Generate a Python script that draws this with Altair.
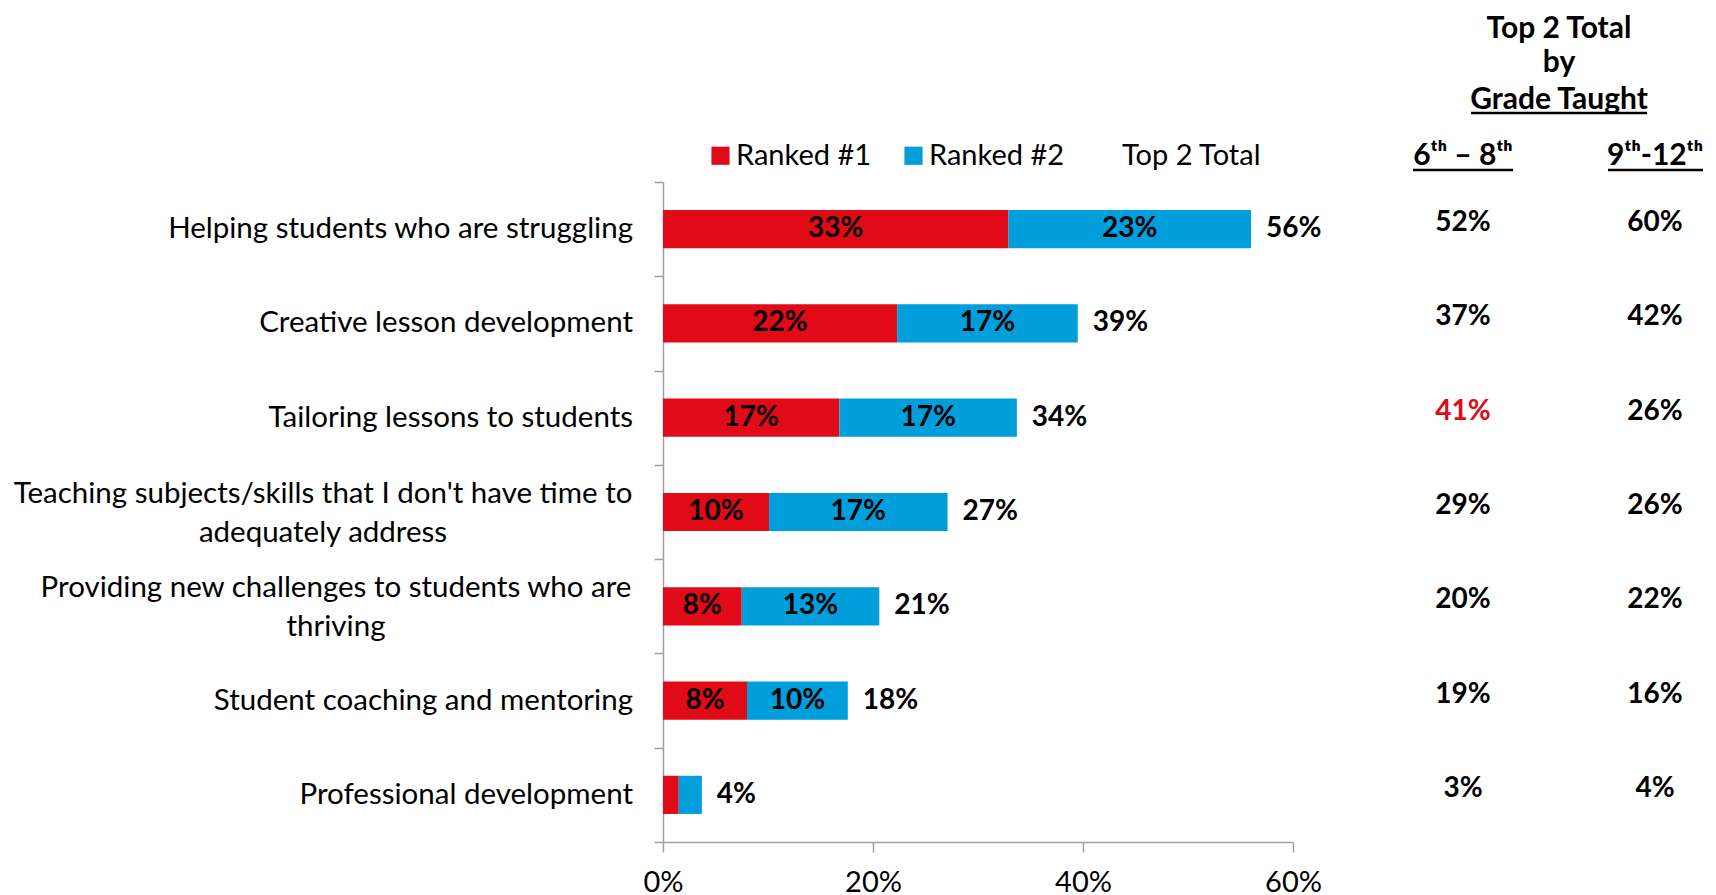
import altair as alt
import pandas as pd

# ---------------- data ----------------
categories = [
    "Helping students who are struggling",
    "Creative lesson development",
    "Tailoring lessons to students",
    "Teaching subjects/skills that I don't have time to\nadequately address",
    "Providing new challenges to students who are\nthriving",
    "Student coaching and mentoring",
    "Professional development",
]
ranked1 = [32.9, 22.3, 16.8, 10.1, 7.5, 8.0, 1.5]
ranked2 = [23.1, 17.2, 16.9, 17.0, 13.1, 9.6, 2.2]
ranked1_labels = ["33%", "22%", "17%", "10%", "8%", "8%", ""]
ranked2_labels = ["23%", "17%", "17%", "17%", "13%", "10%", ""]
top2_labels = ["56%", "39%", "34%", "27%", "21%", "18%", "4%"]
grade_6_8 = ["52%", "37%", "41%", "29%", "20%", "19%", "3%"]
grade_9_12 = ["60%", "42%", "26%", "26%", "22%", "16%", "4%"]
series = ["Ranked #1", "Ranked #2", "Top 2 Total"]
x_ticks = [0, 20, 40, 60]

RED = "#E10A17"
BLUE = "#009EDB"
GRAY = "#A0A0A0"
FONT = "Lato"
CAT_SIZE = 29.5
VAL_SIZE = 28

# ---------------- tables ----------------
long_rows = []
for i, c in enumerate(categories):
    long_rows.append({"cat": c, "series": series[0], "value": ranked1[i], "label": ranked1_labels[i], "order": 1})
    long_rows.append({"cat": c, "series": series[1], "value": ranked2[i], "label": ranked2_labels[i], "order": 2})
long_df = pd.DataFrame(long_rows)

wide_df = pd.DataFrame({
    "cat": categories,
    "idx": list(range(len(categories))),
    "total": [a + b for a, b in zip(ranked1, ranked2)],
    "top2": top2_labels,
    "g68": grade_6_8,
    "g912": grade_9_12,
    "nlines": [len(c.split("\n")) for c in categories],
})

y_enc = alt.Y(
    "cat:N",
    sort=categories,
    scale=alt.Scale(paddingInner=0, paddingOuter=0),
    axis=alt.Axis(
        labels=False, title=None, tickBand="extent", tickSize=9,
        domainColor=GRAY, tickColor=GRAY, domainWidth=1.5, tickWidth=1.5,
    ),
)

bars = alt.Chart(long_df).mark_bar(height=alt.RelativeBandSize(band=0.405)).encode(
    y=y_enc,
    x=alt.X(
        "value:Q", stack="zero",
        scale=alt.Scale(domain=[0, 60], nice=False, zero=True),
        axis=alt.Axis(
            values=x_ticks, labelExpr="datum.value + '%'", grid=False, title=None,
            tickSize=10, domainColor=GRAY, tickColor=GRAY, domainWidth=1.5, tickWidth=1.5,
            labelFont=FONT, labelFontSize=29, labelColor="#000000", labelPadding=16,
            labelFlush=False,
        ),
    ),
    color=alt.Color(
        "series:N",
        scale=alt.Scale(domain=series, range=[RED, BLUE, "rgba(0,0,0,0)"]),
        legend=alt.Legend(
            orient="none", legendX=43, legendY=-41, direction="horizontal",
            title=None, symbolType="square", symbolSize=330, symbolStrokeWidth=0,
            labelFont=FONT, labelFontSize=29, labelColor="#000000",
            columnPadding=27, labelOffset=1, padding=0,
        ),
    ),
    order=alt.Order("order:Q"),
)

seg_labels = alt.Chart(long_df).transform_stack(
    stack="value", groupby=["cat"], as_=["v0", "v1"],
    sort=[alt.SortField("order", order="ascending")],
).transform_calculate(mid="(datum.v0 + datum.v1) / 2").mark_text(
    font=FONT, fontSize=VAL_SIZE, fontWeight="bold", color="#000000", baseline="middle",
).encode(y=alt.Y("cat:N", sort=categories), x=alt.X("mid:Q"), text="label:N")

total_labels = alt.Chart(wide_df).mark_text(
    font=FONT, fontSize=VAL_SIZE, fontWeight="bold", color="#000000", align="left", dx=15, baseline="middle",
).encode(y=alt.Y("cat:N", sort=categories), x=alt.X("total:Q"), text="top2:N")

col68 = alt.Chart(wide_df).mark_text(
    font=FONT, fontSize=VAL_SIZE, fontWeight="bold", baseline="middle", dy=-6,
).encode(
    y=alt.Y("cat:N", sort=categories), x=alt.value(800), text="g68:N",
    color=alt.condition(alt.datum.cat == "Tailoring lessons to students", alt.value(RED), alt.value("#000000")),
)
col912 = alt.Chart(wide_df).mark_text(
    font=FONT, fontSize=VAL_SIZE, fontWeight="bold", baseline="middle", dy=-6, color="#000000",
).encode(y=alt.Y("cat:N", sort=categories), x=alt.value(992), text="g912:N")

single_labels = alt.Chart(wide_df).transform_filter("datum.nlines == 1").mark_text(
    font=FONT, fontSize=CAT_SIZE, align="right", baseline="middle", color="#000000",
).encode(y=alt.Y("cat:N", sort=categories), x=alt.value(-30), text="cat:N")

def multi_label(i, xc):
    return alt.Chart(wide_df).transform_filter(f"datum.idx == {i}").transform_calculate(
        lines="split(datum.cat, '\\n')"
    ).mark_text(
        font=FONT, fontSize=CAT_SIZE, align="center", baseline="middle", color="#000000",
        lineHeight=39, dy=-18,
    ).encode(y=alt.Y("cat:N", sort=categories), x=alt.value(xc), text="lines:N")

multi1 = multi_label(3, -340)
multi2 = multi_label(4, -327)

one = pd.DataFrame({"k": [0]})

def hdr(txt, x, y, size=30, weight="bold", align="center"):
    return alt.Chart(one).mark_text(
        text=txt, font=FONT, fontSize=size, fontWeight=weight, align=align, baseline="middle", color="#000000",
    ).encode(x=alt.value(x), y=alt.value(y))

def uline(x1, x2, y):
    return alt.Chart(one).mark_rule(color="#000000", strokeWidth=2.5).encode(
        x=alt.value(x1), x2=alt.value(x2), y=alt.value(y)
    )

headers = [
    hdr("Top 2 Total", 896, -153),
    hdr("by", 896, -119),
    hdr("Grade Taught", 896, -82),
    uline(808, 984, -69),
    hdr("6\u1d57\u02b0 \u2013 8\u1d57\u02b0", 800, -26),
    uline(750, 850, -12),
    hdr("9\u1d57\u02b0-12\u1d57\u02b0", 992, -26),
    uline(945, 1040, -12),
]

chart = alt.layer(
    bars, seg_labels, total_labels, col68, col912, single_labels, multi1, multi2, *headers
).properties(
    width=630, height=660,
    autosize=alt.AutoSizeParams(type="none"),
    padding={"left": 655, "top": 174, "right": 414, "bottom": 58},
).configure(background="white").configure_view(stroke=None)

chart.save("out.html", embed_options={"renderer": "svg", "actions": False})
